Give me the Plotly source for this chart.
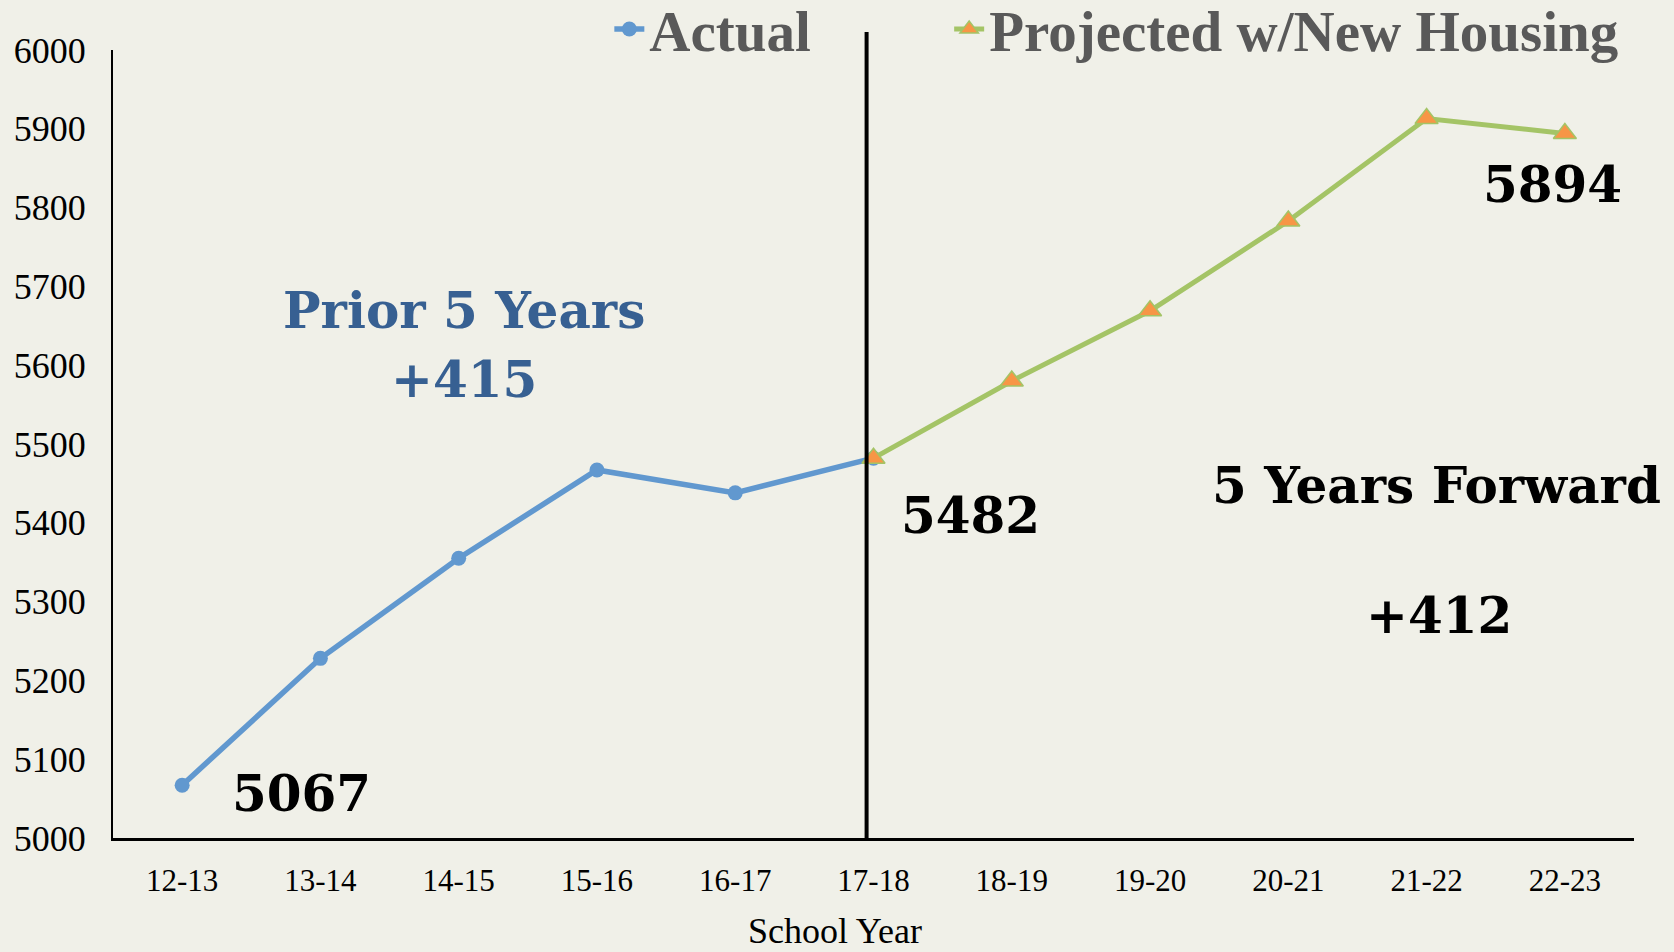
import plotly.graph_objects as go

years = ["12-13", "13-14", "14-15", "15-16", "16-17", "17-18",
         "18-19", "19-20", "20-21", "21-22", "22-23"]
actual = [5067, 5228, 5355, 5467, 5438, 5482, None, None, None, None, None]
projected = [None, None, None, None, None, 5482, 5580, 5669, 5783, 5913, 5894]
y_ticks = [5000, 5100, 5200, 5300, 5400, 5500, 5600, 5700, 5800, 5900, 6000]

BG = "#f0f0e8"
BIG = "DejaVu Serif"
SERIF = "Liberation Serif"

fig = go.Figure()
fig.add_trace(go.Scatter(
    x=list(range(len(years))), y=actual, name="Actual", mode="lines+markers",
    line=dict(color="#6198cf", width=5.5),
    marker=dict(symbol="circle", size=15, color="#6198cf"),
    legend="legend",
))
fig.add_trace(go.Scatter(
    x=list(range(len(years))), y=projected, name="Projected w/New Housing",
    mode="lines+markers",
    line=dict(color="#a4c466", width=5),
    marker=dict(symbol="triangle-up", size=20, color="#f79646",
                line=dict(color="#a4c466", width=1.5)),
    legend="legend2",
))

fig.add_shape(type="line", xref="x", yref="paper", x0=4.95, x1=4.95,
              y0=0, y1=1.023, line=dict(color="black", width=4))

def ann(text, x, y, color="black", size=50):
    fig.add_annotation(text=text, x=x, y=y, xref="x", yref="y", showarrow=False,
                       font=dict(family=BIG, size=size, color=color, weight="bold"),
                       xanchor="center", yanchor="middle")

ann("5067", 0.86, 5056)
ann("5482", 5.70, 5409)
ann("5894", 9.91, 5829)
ann("Prior 5 Years", 2.04, 5670, color="#376092")
ann("+415", 2.04, 5582, color="#376092")
ann("5 Years Forward", 9.07, 5447)
ann("+412", 9.09, 5283)

fig.add_annotation(text="School Year", x=0.475, y=-0.118, xref="paper", yref="paper",
                   showarrow=False, xanchor="center", yanchor="middle",
                   font=dict(family=SERIF, size=36, color="black"))

legend_font = dict(family=SERIF, size=57, color="#595959", weight="bold")
legend_common = dict(orientation="h", xref="container", yref="paper",
                     xanchor="left", yanchor="middle", y=1.026,
                     bgcolor="rgba(0,0,0,0)", font=legend_font)

fig.update_layout(
    width=1674, height=952,
    margin=dict(l=113, r=40, t=50, b=114, autoexpand=False),
    paper_bgcolor=BG, plot_bgcolor=BG,
    showlegend=True,
    legend=dict(x=0.364, **legend_common),
    legend2=dict(x=0.567, **legend_common),
    xaxis=dict(
        tickmode="array", tickvals=list(range(len(years))), ticktext=years,
        range=[-0.5, 10.5], showgrid=False, zeroline=False,
        showline=True, linecolor="black", linewidth=3,
        ticks="", ticklabelstandoff=13,
        tickfont=dict(family=SERIF, size=31, color="black"),
    ),
    yaxis=dict(
        range=[5000, 6000], tickmode="array", tickvals=y_ticks,
        showgrid=False, zeroline=False,
        showline=True, linecolor="black", linewidth=2,
        ticks="", ticklabelstandoff=18,
        tickfont=dict(family=SERIF, size=36, color="black"),
    ),
)

fig.write_html("out.html", config={"displayModeBar": False},
               post_script="document.body.style.margin='0';document.body.style.overflow='hidden';")
